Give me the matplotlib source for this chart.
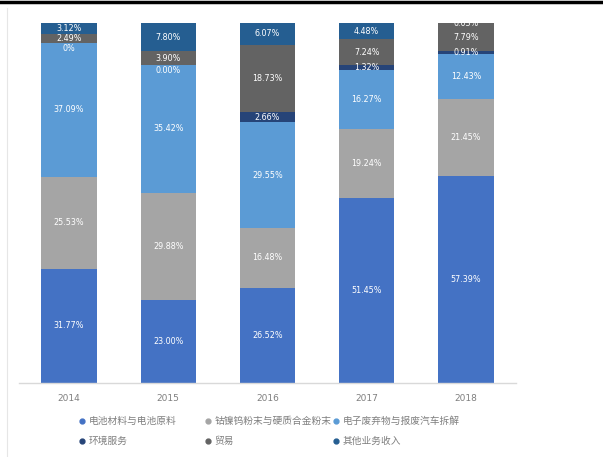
import matplotlib
matplotlib.use("Agg")
import matplotlib.pyplot as plt
from matplotlib.lines import Line2D
import numpy as np

plt.rcParams['font.family'] = ['Noto Sans CJK SC', 'DejaVu Sans']

years = ["2014", "2015", "2016", "2017", "2018"]
series_names = [
    "电池材料与电池原料",
    "钴镍钨粉末与硬质合金粉末",
    "电子废弃物与报废汽车拆解",
    "环境服务",
    "贸易",
    "其他业务收入",
]
battery = [31.77, 23.00, 26.52, 51.45, 57.39]
cobalt_nickel = [25.53, 29.88, 16.48, 19.24, 21.45]
e_waste = [37.09, 35.42, 29.55, 16.27, 12.43]
env_service = [0.00, 0.00, 2.66, 1.32, 0.91]
trade = [2.49, 3.90, 18.73, 7.24, 7.79]
other = [3.12, 7.80, 6.07, 4.48, 0.03]

colors = ["#4472C4", "#A5A5A5", "#5B9BD5", "#264478", "#636363", "#255E91"]

series = [battery, cobalt_nickel, e_waste, env_service, trade, other]

fig = plt.figure(figsize=(6.03, 4.57), dpi=100)
ax = fig.add_axes([19.4 / 603, 74 / 457, 496.2 / 603, 360 / 457])

x = np.arange(len(years))
bottom = np.zeros(len(years))
for vals, col in zip(series, colors):
    vals = np.array(vals)
    ax.bar(x, vals, width=0.555, bottom=bottom, color=col, zorder=2)
    for xi, v, b in zip(x, vals, bottom):
        lab = "0%" if (v == 0 and xi == 0) else f"{v:.2f}%"
        # zero-height segments: put the label just under the boundary
        ypos = b + v / 2 - (1.4 if v == 0 else 0)
        ax.text(xi, ypos, lab, ha="center", va="center",
                color="white", fontsize=5.8, family="DejaVu Sans", zorder=3)
    bottom += vals

ax.set_xlim(-0.5, len(years) - 0.5)
ax.set_ylim(0, 100)
ax.set_xticks(x)
ax.set_xticklabels(years, color="#7F7F7F", fontsize=6.5, family="DejaVu Sans")
ax.tick_params(axis="x", length=0, pad=8)
ax.set_yticks([])
for s in ["top", "left", "right"]:
    ax.spines[s].set_visible(False)
ax.spines["bottom"].set_color("#D9D9D9")
ax.spines["bottom"].set_linewidth(1.0)

# legend in three columns of two entries each
col_x = [79 / 603, 205 / 603, 333 / 603]
for ci in range(3):
    idx = [ci, ci + 3]
    handles = [Line2D([], [], marker="o", linestyle="none", markersize=3.5,
                      markerfacecolor=colors[i], markeredgecolor=colors[i])
               for i in idx]
    labels = [series_names[i] for i in idx]
    fig.legend(handles, labels, loc="upper left",
               bbox_to_anchor=(col_x[ci], 1 - 416 / 457),
               frameon=False, fontsize=7, labelcolor="#7F7F7F",
               handlelength=0.6, handletextpad=0.4, labelspacing=1.05,
               borderpad=0, borderaxespad=0)

# page frame
fig.add_artist(Line2D([0, 1], [1 - 1.5 / 457, 1 - 1.5 / 457], color="black",
                      linewidth=2.5, transform=fig.transFigure))
fig.add_artist(Line2D([7 / 603, 7 / 603], [0, 1 - 8 / 457], color="#E6E6E6",
                      linewidth=0.8, transform=fig.transFigure))

fig.savefig("out.png", dpi=100)
